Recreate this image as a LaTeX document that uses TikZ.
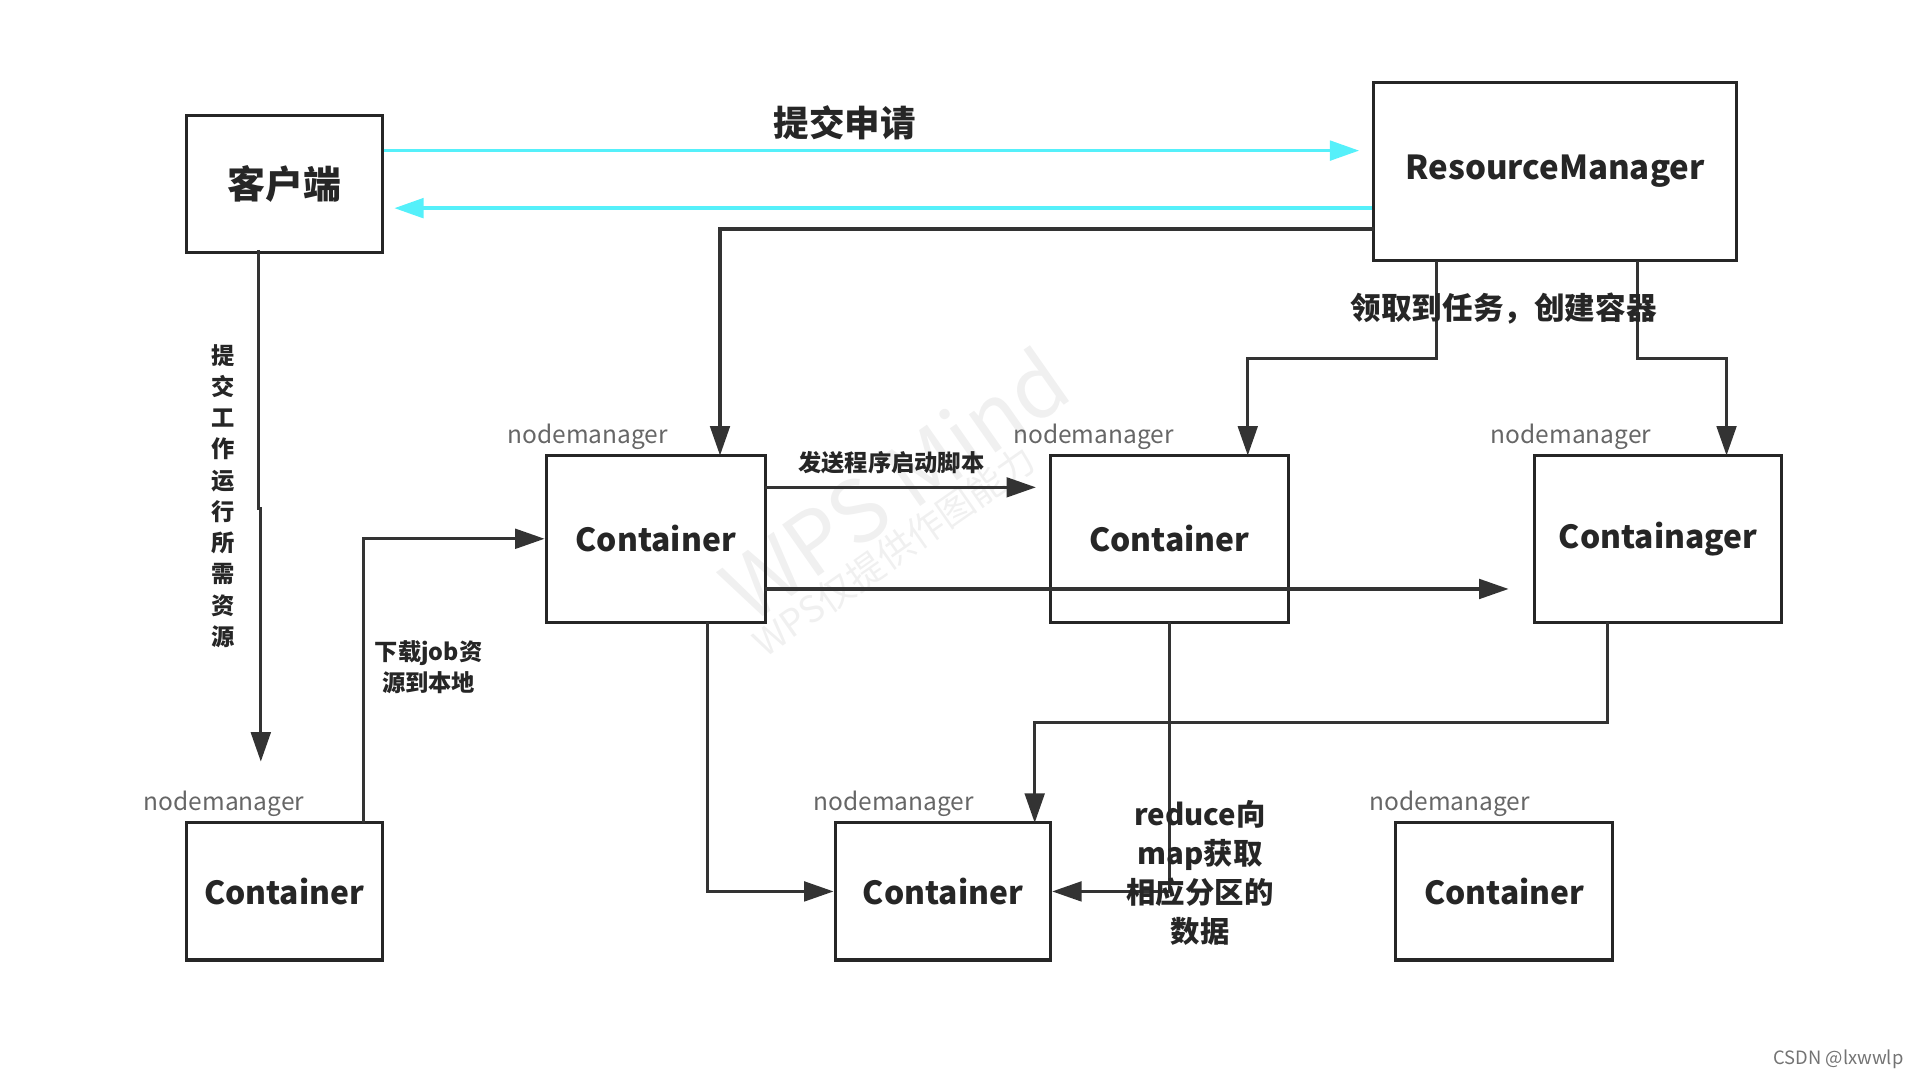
\documentclass[tikz,border=0pt]{standalone}
\usepackage{fontspec}
\setmainfont{Noto Sans CJK SC}
\usetikzlibrary{arrows.meta}
\definecolor{cy}{RGB}{85,240,250}
\begin{document}
\begin{tikzpicture}[x=1pt,y=-1pt,
  box/.style={draw=black!85,line width=2.5pt,font=\bfseries\fontsize{26}{28}\selectfont,text=black!85},
  conn/.style={draw=black!80,line width=2.5pt,-{Triangle[length=24pt,width=16pt]}},
  cyan/.style={draw=cy,line width=3pt,-{Triangle[length=24pt,width=16pt]}},
  nm/.style={text=black!60,font=\fontsize{20}{22}\selectfont,anchor=south},
  lbl/.style={text=black!85,font=\bfseries\fontsize{20}{24}\selectfont,align=center}]
\useasboundingbox (0,0) rectangle (1568,882);
\node[text=black!6,rotate=35,font=\fontsize{70}{70}\selectfont] (wm) at (730,395) {WPS Mind};
\node[text=black!6,rotate=35,font=\fontsize{30}{30}\selectfont] (wm2) at (730,450) {WPS仅提供作图能力};
\node[box,minimum width=160,minimum height=112,font=\bfseries\fontsize{31}{33}\selectfont] (cli) at (232,150) {客户端};
\node[box,minimum width=296,minimum height=146,font=\bfseries\fontsize{27}{28}\selectfont] (rm) at (1270,140) {ResourceManager};
\node[box,minimum width=179,minimum height=136] (c1) at (535.5,440) {Container};
\node[box,minimum width=194,minimum height=136] (c2) at (955,440) {Container};
\node[box,minimum width=202,minimum height=136] (c3) at (1354,440) {Containager};
\node[box,minimum width=160,minimum height=112] (c4) at (232,728) {Container};
\node[box,minimum width=176,minimum height=112] (c5) at (770,728) {Container};
\node[box,minimum width=177,minimum height=112] (c6) at (1228.5,728) {Container};
\foreach \n/\x in {c1/480,c2/893,c3/1283,c4/183,c5/730,c6/1184}{
  \node[nm] (nm\n) at (\x,0 |- \n.north) {nodemanager};}
% cyan
\coordinate (rmin) at (1110,123);
\draw[cyan] (cli.east |- rmin) -- (rmin);
\coordinate (cliin) at (322,170);
\draw[cyan] (rm.west |- cliin) -- (cliin);
\node[lbl,font=\bfseries\fontsize{29}{30}\selectfont] (t1) at (690,100) {提交申请};
% RM to containers
\draw[conn] (1122,187) -- (588,187) -- (588,372);
\draw[conn] (1173,213) -- (1173,293) -- (1019,293) -- (1019,372);
\draw[conn] (1337,213) -- (1337,293) -- (1410,293) -- (1410,372);
\node[lbl,font=\bfseries\fontsize{25}{26}\selectfont] (t2) at (1228,252) {领取到任务，创建容器};
% client to c4
\coordinate (cend) at (213,622);
\draw[conn] (211,204) -- (211,415) -- (213,415) -- (cend);
\node[lbl,align=center,font=\bfseries\fontsize{19}{25.5}\selectfont] (t3) at (182,405) {提\\交\\工\\作\\运\\行\\所\\需\\资\\源};
% c4 to c1
\draw[conn] (297,672) -- (297,440) -- (c1.west);
\node[lbl,font=\bfseries\fontsize{19}{25}\selectfont] (t4) at (350,545) {下载job资\\源到本地};
% c1 to c2, c3
\coordinate (c2in) at (846,398);
\draw[conn] (625,398) -- (c2in);
\node[lbl,font=\bfseries\fontsize{19}{22}\selectfont] (t5) at (728,378) {发送程序启动脚本};
\coordinate (c3in) at (1232,481);
\draw[conn] (625,481) -- (c3in);
% to c5
\draw[conn] (578,508) -- (578,728) -- (c5.west);
\draw[conn] (1313,508) -- (1313,590) -- (845,590) -- (845,672);
\draw[conn] (955,508) -- (955,728) -- (c5.east);
\node[lbl,font=\bfseries\fontsize{24}{32}\selectfont] (t6) at (980,713) {reduce向\\map获取\\相应分区的\\数据};
\node[text=black!55,font=\fontsize{15}{16}\selectfont,anchor=east] (csdn) at (1558,865) {CSDN @lxwwlp};
\end{tikzpicture}
\end{document}
